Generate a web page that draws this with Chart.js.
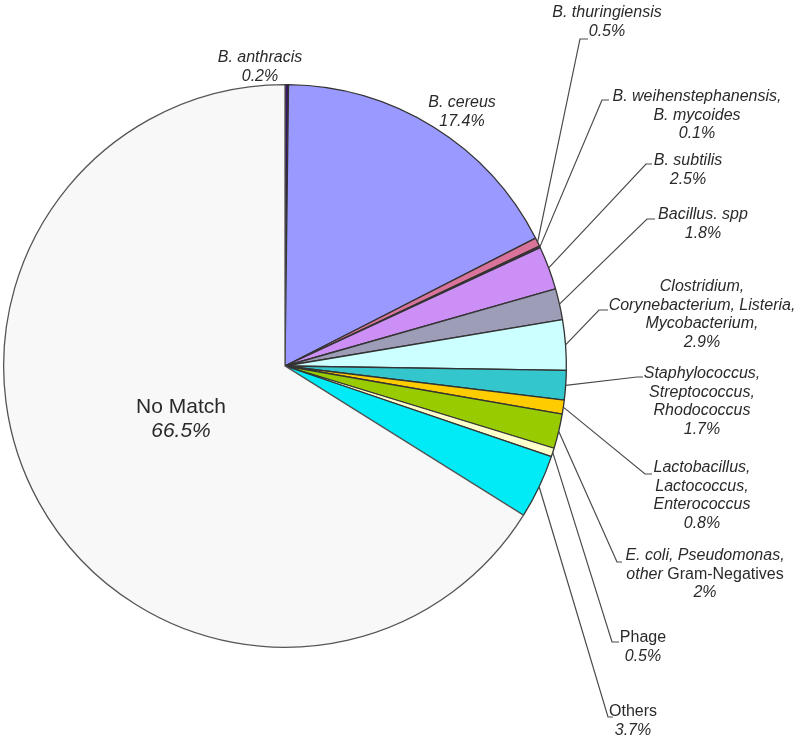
<!DOCTYPE html>
<html>
<head>
<meta charset="utf-8">
<script src="https://cdn.jsdelivr.net/npm/chart.js@4/dist/chart.umd.min.js"></script>
<style>
  html, body { margin: 0; padding: 0; background: #fff; }
  #wrap { width: 800px; height: 741px; position: relative; }
</style>
</head>
<body>
<div id="wrap"><canvas id="pie"></canvas></div>
<script>
const categories = [
  "B. anthracis", "B. cereus", "B. thuringiensis", "B. weihenstephanensis, B. mycoides",
  "B. subtilis", "Bacillus. spp", "Clostridium, Corynebacterium, Listeria, Mycobacterium",
  "Staphylococcus, Streptococcus, Rhodococcus", "Lactobacillus, Lactococcus, Enterococcus",
  "E. coli, Pseudomonas, other Gram-Negatives", "Phage", "Others", "No Match"
];
const shares = [0.2, 17.4, 0.5, 0.1, 2.5, 1.8, 2.9, 1.7, 0.8, 2, 0.5, 3.7, 66.5];
const colors = [
  "#3d1466", "#9999ff", "#d9739a", "#6a2a6a", "#cc8ff5", "#9d9db8", "#ccffff",
  "#33c6cc", "#ffcc00", "#99cc00", "#ffffcc", "#00ebf5", "#f8f8f8"
];

// label blocks: lines as [[text, italic], ...], centre x, first line y, leader corner
const labelLayout = [
  { lines: [[["B. anthracis", 1]], [["0.2%", 1]]], cx: 260, y: 58 },
  { lines: [[["B. cereus", 1]], [["17.4%", 1]]], cx: 462, y: 103 },
  { lines: [[["B. thuringiensis", 1]], [["0.5%", 1]]], cx: 607, y: 13, corner: [580, 39, 588] },
  { lines: [[["B. weihenstephanensis,", 1]], [["B. mycoides", 1]], [["0.1%", 1]]], cx: 697, y: 97, corner: [602, 100, 609] },
  { lines: [[["B. subtilis", 1]], [["2.5%", 1]]], cx: 688, y: 161, corner: [646, 164, 652] },
  { lines: [[["Bacillus. spp", 1]], [["1.8%", 1]]], cx: 703, y: 215, corner: [647, 219, 655] },
  { lines: [[["Clostridium,", 1]], [["Corynebacterium, Listeria,", 1]], [["Mycobacterium,", 1]], [["2.9%", 1]]], cx: 702, y: 287, corner: [599, 310, 608] },
  { lines: [[["Staphylococcus,", 1]], [["Streptococcus,", 1]], [["Rhodococcus", 1]], [["1.7%", 1]]], cx: 702, y: 374, corner: [637, 377, 643] },
  { lines: [[["Lactobacillus,", 1]], [["Lactococcus,", 1]], [["Enterococcus", 1]], [["0.8%", 1]]], cx: 702, y: 468, corner: [645, 474, 652] },
  { lines: [[["E. coli, Pseudomonas,", 1]], [["other", 1], [" Gram-Negatives", 0]], [["2%", 1]]], cx: 705, y: 556, corner: [617, 562, 622] },
  { lines: [[["Phage", 0]], [["0.5%", 1]]], cx: 643, y: 638, corner: [612, 642, 619] },
  { lines: [[["Others", 0]], [["3.7%", 1]]], cx: 633, y: 712, corner: [608, 717, 613] },
  { lines: [[["No Match", 0]], [["66.5%", 1]]], cx: 181, y: 407, big: true }
];

const labelPlugin = {
  id: "pieLabels",
  afterDraw(chart) {
    const ctx = chart.ctx;
    const arcs = chart.getDatasetMeta(0).data;
    ctx.save();
    ctx.strokeStyle = "#4a4a4a";
    ctx.lineWidth = 1.2;
    labelLayout.forEach((lab, i) => {
      if (lab.corner) {
        const a = arcs[i].getProps(["x", "y", "startAngle", "endAngle", "outerRadius"], true);
        const mid = (a.startAngle + a.endAngle) / 2;
        const sx = a.x + Math.cos(mid) * a.outerRadius;
        const sy = a.y + Math.sin(mid) * a.outerRadius;
        ctx.beginPath();
        ctx.moveTo(sx, sy);
        ctx.lineTo(lab.corner[0], lab.corner[1]);
        ctx.lineTo(lab.corner[2], lab.corner[1]);
        ctx.stroke();
      }
      const size = lab.big ? 21 : 16;
      const lh = lab.big ? 24 : 18.5;
      ctx.fillStyle = "#2a2a2a";
      ctx.textBaseline = "middle";
      ctx.textAlign = "left";
      lab.lines.forEach((parts, li) => {
        let w = 0;
        parts.forEach(([t, it]) => {
          ctx.font = (it ? "italic " : "") + size + "px 'Liberation Sans', Arial, sans-serif";
          w += ctx.measureText(t).width;
        });
        let x = lab.cx - w / 2;
        const y = lab.y + li * lh;
        parts.forEach(([t, it]) => {
          ctx.font = (it ? "italic " : "") + size + "px 'Liberation Sans', Arial, sans-serif";
          ctx.fillText(t, x, y);
          x += ctx.measureText(t).width;
        });
      });
    });
    ctx.restore();
  }
};

new Chart(document.getElementById("pie"), {
  type: "pie",
  data: {
    labels: categories,
    datasets: [{
      data: shares,
      backgroundColor: colors,
      borderColor: colors.map((c, i) => (i === colors.length - 1 ? "#555" : "#333")),
      borderWidth: 1.3
    }]
  },
  options: {
    responsive: true,
    maintainAspectRatio: false,
    animation: false,
    layout: { padding: { left: 3, right: 233, top: 84, bottom: 93 } },
    plugins: {
      legend: { display: false },
      tooltip: { enabled: false }
    }
  },
  plugins: [labelPlugin]
});
</script>
</body>
</html>
